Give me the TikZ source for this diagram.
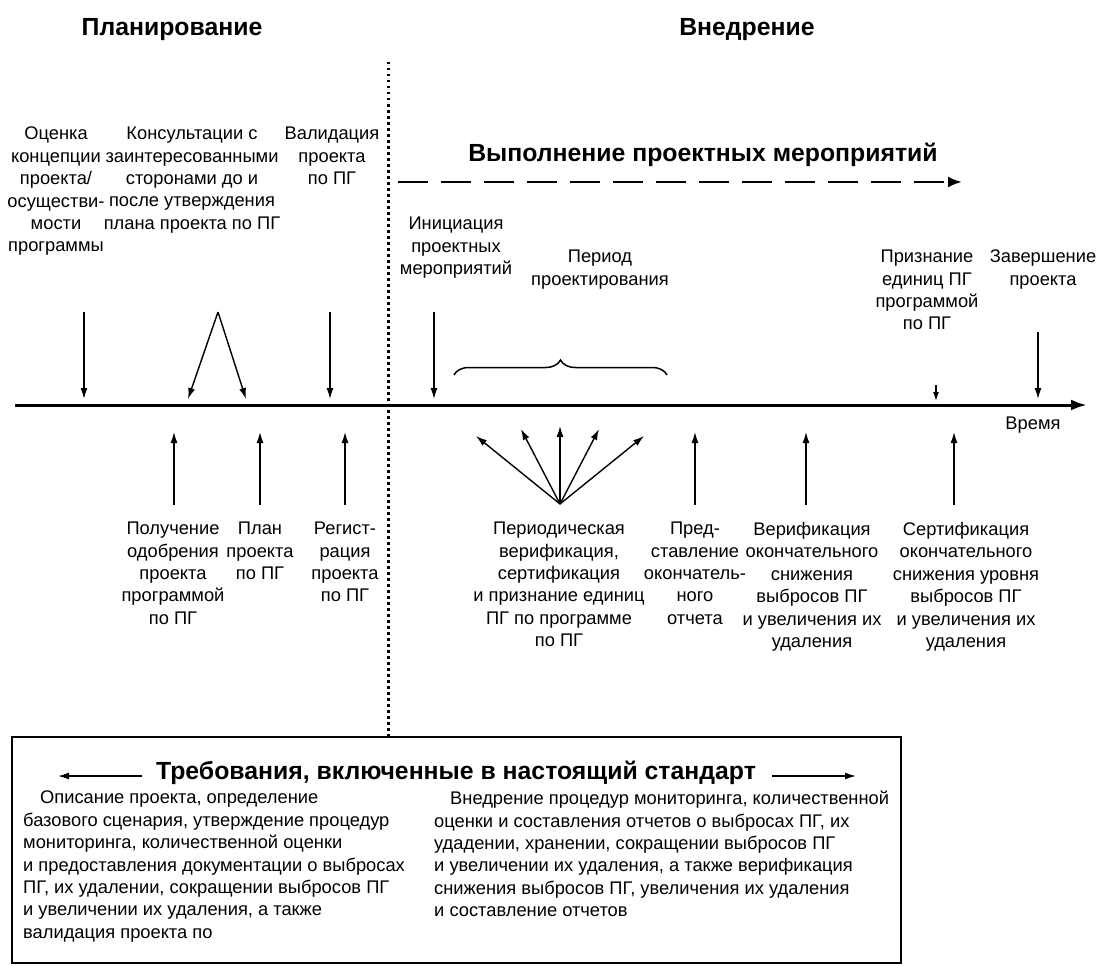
\documentclass[tikz,border=0pt]{standalone}
\usepackage{fontspec}
\setmainfont{Liberation Sans}
\usetikzlibrary{arrows.meta,decorations.pathreplacing}
\tikzset{
  lbl/.style={font=\fontsize{18.3}{22.4}\selectfont, align=center, inner sep=0pt, anchor=north},
  hd/.style={font=\bfseries\fontsize{24.8}{28}\selectfont, inner sep=0pt},
  boxtxt/.style={font=\fontsize{18.3}{22.4}\selectfont, align=left, inner sep=0pt, anchor=north west},
  arr/.style={line width=1.4pt, -{Latex[length=11pt,width=7pt]}},
  fan/.style={line width=1.4pt, -{Latex[length=11pt,width=7pt]}},
}
\begin{document}
\begin{tikzpicture}[x=1pt,y=-1pt]
\useasboundingbox (0,0) rectangle (1101,966);
% headings
\node[hd] (hplan) at (172,30) {Планирование};
\node[hd] (hvn) at (747,30) {Внедрение};
% dotted separator
\coordinate (dtop) at (388,62);
\coordinate (dbot) at (388,737);
\draw[line width=3pt, dash pattern=on 2.5pt off 3.5pt] (dtop) -- (dbot);
% top-left labels
\node[lbl] (t1) at (56,127) {Оценка\\концепции\\проекта/\\осуществи-\\мости\\программы};
\node[lbl] (t2) at (192,127) {Консультации с\\заинтересованными\\сторонами до и\\после утверждения\\плана проекта по ПГ};
\node[lbl] (t3) at (332,127) {Валидация\\проекта\\по ПГ};
% execution title and dashed arrow
\node[hd] (exec) at (703,155) {Выполнение проектных мероприятий};
\coordinate (ds) at (398,182);
\coordinate (de) at (962,182);
\draw[line width=2.6pt, dash pattern=on 30pt off 13pt, -{Latex[length=14pt,width=11pt]}] (ds) -- (de);
% top-right labels
\node[lbl] (t4) at (456,217) {Инициация\\проектных\\мероприятий};
\node[lbl] (t5) at (600,250) {Период\\проектирования};
\node[lbl] (t6) at (927,250) {Признание\\единиц ПГ\\программой\\по ПГ};
\node[lbl] (t7) at (1043,250) {Завершение\\проекта};
% time axis
\coordinate (ax0) at (15,405);
\coordinate (ax1) at (1087,405);
\draw[line width=3pt, -{Latex[length=16pt,width=11pt]}] (ax0) -- (ax1);
\node[lbl, anchor=center] (time) at (1033,425) {Время};
% down arrows
\coordinate (d1s) at (84,312);   \coordinate (d1e) at (84,399);
\coordinate (apex) at (218,312);
\coordinate (d2a) at (188,399);  \coordinate (d2b) at (246,399);
\coordinate (d3s) at (330,312);  \coordinate (d3e) at (330,399);
\coordinate (d4s) at (434,312);  \coordinate (d4e) at (434,399);
\coordinate (d5s) at (936,385);  \coordinate (d5e) at (936,401);
\coordinate (d6s) at (1038,332); \coordinate (d6e) at (1038,399);
\draw[arr] (d1s) -- (d1e);
\draw[arr] (apex) -- (d2a);
\draw[arr] (apex) -- (d2b);
\draw[arr] (d3s) -- (d3e);
\draw[arr] (d4s) -- (d4e);
\draw[line width=1.4pt, -{Latex[length=9pt,width=6pt]}] (d5s) -- (d5e);
\draw[arr] (d6s) -- (d6e);
% brace
\coordinate (br0) at (454,375);
\coordinate (br1) at (667,375);
\draw[line width=1.5pt, decorate, decoration={brace, amplitude=15pt}] (br0) -- (br1);
% up arrows
\coordinate (u1s) at (174,505); \coordinate (u1e) at (174,432);
\coordinate (u2s) at (260,505); \coordinate (u2e) at (260,432);
\coordinate (u3s) at (345,505); \coordinate (u3e) at (345,432);
\coordinate (u5s) at (695,505); \coordinate (u5e) at (695,432);
\coordinate (u6s) at (806,505); \coordinate (u6e) at (806,432);
\coordinate (u7s) at (954,505); \coordinate (u7e) at (954,432);
\draw[arr] (u1s) -- (u1e);
\draw[arr] (u2s) -- (u2e);
\draw[arr] (u3s) -- (u3e);
\draw[arr] (u5s) -- (u5e);
\draw[arr] (u6s) -- (u6e);
\draw[arr] (u7s) -- (u7e);
% fan
\coordinate (fan0) at (560,504);
\coordinate (f1) at (476,436);
\coordinate (f2) at (521,429);
\coordinate (f3) at (560,426);
\coordinate (f4) at (599,429);
\coordinate (f5) at (644,436);
\foreach \f in {f1,f2,f3,f4,f5} \draw[fan] (fan0) -- (\f);
% bottom labels
\node[lbl] (b1) at (173,522) {Получение\\одобрения\\проекта\\программой\\по ПГ};
\node[lbl] (b2) at (260,522) {План\\проекта\\по ПГ};
\node[lbl] (b3) at (345,522) {Регист-\\рация\\проекта\\по ПГ};
\node[lbl] (b4) at (559,522) {Периодическая\\верификация,\\сертификация\\и признание единиц\\ПГ по программе\\по ПГ};
\node[lbl] (b5) at (695,522) {Пред-\\ставление\\окончатель-\\ного\\отчета};
\node[lbl] (b6) at (812,522) {Верификация\\окончательного\\снижения\\выбросов ПГ\\и увеличения их\\удаления};
\node[lbl] (b7) at (966,522) {Сертификация\\окончательного\\снижения уровня\\выбросов ПГ\\и увеличения их\\удаления};
% requirements box
\draw[line width=2.2pt] (12,737) rectangle (901,963);
\node[hd] (req) at (456,773) {Требования, включенные в настоящий стандарт};
\coordinate (la0) at (142,776); \coordinate (la1) at (58,776);
\coordinate (ra0) at (772,776); \coordinate (ra1) at (856,776);
\draw[line width=1.4pt, -{Latex[length=11pt,width=7pt]}] (la0) -- (la1);
\draw[line width=1.4pt, -{Latex[length=11pt,width=7pt]}] (ra0) -- (ra1);
\node[boxtxt] (lt) at (23,791) {\hspace*{17pt}Описание проекта, определение\\
базового сценария, утверждение процедур\\
мониторинга, количественной оценки\\
и предоставления документации о выбросах\\
ПГ, их удалении, сокращении выбросов ПГ\\
и увеличении их удаления, а также\\
валидация проекта по};
\node[boxtxt] (rt) at (434,791) {\hspace*{16pt}Внедрение процедур мониторинга, количественной\\
оценки и составления отчетов о выбросах ПГ, их\\
удадении, хранении, сокращении выбросов ПГ\\
и увеличении их удаления, а также верификация\\
снижения выбросов ПГ, увеличения их удаления\\
и составление отчетов};
\end{tikzpicture}
\end{document}
